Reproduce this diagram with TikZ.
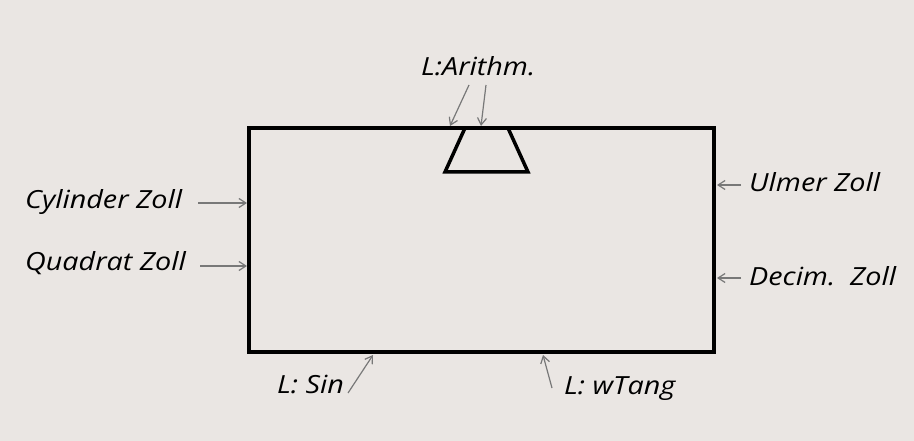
\documentclass[tikz,border=0pt]{standalone}
\usepackage{fontspec}
\setmainfont[FakeStretch=1.15]{Open Sans}
\usetikzlibrary{arrows.meta}
\definecolor{bgc}{RGB}{234,230,227}
\definecolor{arrc}{RGB}{120,120,120}
\tikzset{
  lbl/.style={font=\itshape\fontsize{25}{30}\selectfont, text=black, inner sep=0pt, anchor=base west},
  ptr/.style={draw=arrc, line width=1.2pt, -{Straight Barb[length=7pt,width=9pt]}},
  frame/.style={draw=black, line width=3.5pt},
}
\begin{document}
\begin{tikzpicture}[x=1pt,y=-1pt]
\fill[bgc] (0,0) rectangle (914,441);
\useasboundingbox (0,0) rectangle (914,441);
\draw[frame] (249,128) rectangle (714,352);
\draw[frame, line join=miter] (465,128) -- (508,128) -- (528,172) -- (445,172) -- cycle;
% labels
\node[lbl] (ar) at (421,76) {L:Arithm.};
\node[lbl] (cy) at (25,208) {Cylinder Zoll};
\node[lbl] (qu) at (25,270) {Quadrat Zoll};
\node[lbl] (ul) at (749,192) {Ulmer Zoll};
\node[lbl] (de) at (749,285) {Decim.\ \ Zoll};
\node[lbl] (si) at (277,393) {L: Sin};
\node[lbl] (wt) at (564,394) {L: wTang};
% pointer ends
\coordinate (a1s) at (469,85); \coordinate (a1e) at (450,126);
\coordinate (a2s) at (486,85); \coordinate (a2e) at (481,126);
\coordinate (cys) at (198,203); \coordinate (cye) at (247,203);
\coordinate (qus) at (200,266); \coordinate (que) at (247,266);
\coordinate (uls) at (741,185); \coordinate (ule) at (717,185);
\coordinate (des) at (741,278); \coordinate (dee) at (717,278);
\coordinate (sis) at (348,393); \coordinate (sie) at (373,355);
\coordinate (wts) at (552,388); \coordinate (wte) at (543,355);
\draw[ptr] (a1s) -- (a1e);
\draw[ptr] (a2s) -- (a2e);
\draw[ptr] (cys) -- (cye);
\draw[ptr] (qus) -- (que);
\draw[ptr] (uls) -- (ule);
\draw[ptr] (des) -- (dee);
\draw[ptr] (sis) -- (sie);
\draw[ptr] (wts) -- (wte);
\end{tikzpicture}
\end{document}
